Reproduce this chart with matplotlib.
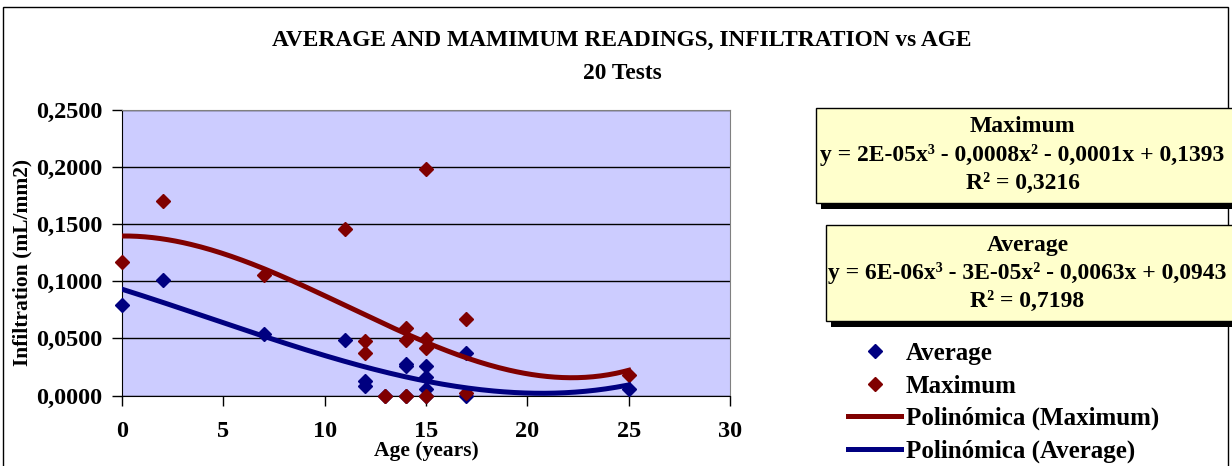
import matplotlib
matplotlib.use("Agg")
import matplotlib.pyplot as plt
import numpy as np
from matplotlib.patches import Rectangle
from matplotlib.ticker import FuncFormatter

# Readings (age in years, infiltration in mL/mm2)
age = [0, 2, 7, 11, 12, 12, 13, 14, 14, 14, 15, 15, 15, 15, 17, 17, 25]
average = [0.079, 0.101, 0.054, 0.049, 0.0128, 0.0085, 0.0, 0.028, 0.026, 0.0,
           0.026, 0.0166, 0.006, 0.0, 0.037, 0.0, 0.006]
maximum = [0.117, 0.170, 0.105, 0.1455, 0.048, 0.037, 0.0, 0.0595, 0.049, 0.0,
           0.198, 0.0496, 0.0414, 0.0, 0.0668, 0.002, 0.018]

x_ticks = [0, 5, 10, 15, 20, 25, 30]
y_ticks = [0, 0.05, 0.10, 0.15, 0.20, 0.25]

eq_max = ["Maximum", "y = 2E-05x³ - 0,0008x² - 0,0001x + 0,1393", "R² = 0,3216"]
eq_avg = ["Average", "y = 6E-06x³ - 3E-05x² - 0,0063x + 0,0943", "R² = 0,7198"]

navy = "#000080"
maroon = "#800000"

plt.rcParams["font.family"] = ["Liberation Serif", "DejaVu Serif"]
plt.rcParams["font.weight"] = "bold"

fig = plt.figure(figsize=(12.32, 4.66), dpi=100)
ax = fig.add_axes([0.099, 0.151, 0.4935, 0.614])
ax.set_facecolor("#CCCCFF")

# cubic trend lines, like the spreadsheet's polynomial trendline
xs = np.linspace(0, 25, 200)
fit_max = np.polyval(np.polyfit(age, maximum, 3), xs)
fit_avg = np.polyval(np.polyfit(age, average, 3), xs)

p_avg, = ax.plot(age, average, linestyle="none", marker="D", ms=7.5, color=navy,
                 clip_on=False, zorder=3, label="Average")
p_max, = ax.plot(age, maximum, linestyle="none", marker="D", ms=7.5, color=maroon,
                 clip_on=False, zorder=4, label="Maximum")
l_max, = ax.plot(xs, fit_max, color=maroon, lw=3.6, zorder=5,
                 label="Polinómica (Maximum)")
l_avg, = ax.plot(xs, fit_avg, color=navy, lw=3.6, zorder=5,
                 label="Polinómica (Average)")

ax.set_xlim(0, 30)
ax.set_ylim(0, 0.25)
ax.set_xticks(x_ticks)
ax.set_yticks(y_ticks)
ax.yaxis.set_major_formatter(FuncFormatter(lambda v, p: f"{v:.4f}".replace(".", ",")))
ax.grid(axis="y", color="black", lw=1)
ax.set_axisbelow(True)
ax.tick_params(axis="y", direction="out", length=7, width=1, pad=7, labelsize=17.5)
ax.tick_params(axis="x", direction="out", length=7, width=1, pad=11, labelsize=17.5)
for s in ["top", "right"]:
    ax.spines[s].set_color("#808080")

ax.set_xlabel("Age (years)", fontsize=15.5, fontweight="bold")
ax.xaxis.set_label_coords(0.5, -0.158)
ax.set_ylabel("Infiltration (mL/mm2)", fontsize=15.5, fontweight="bold")
ax.yaxis.set_label_coords(-0.148, 0.467)

fig.text(0.505, 0.914, "AVERAGE AND MAMIMUM READINGS, INFILTRATION vs AGE",
         ha="center", va="center", fontsize=16.8)
fig.text(0.505, 0.843, "20 Tests", ha="center", va="center", fontsize=16.8)

# outer frame
fig.patches.append(Rectangle((0.0024, -0.01), 0.9943, 0.995, transform=fig.transFigure,
                             fill=False, ec="black", lw=1))

# equation boxes with shadows
for x0, y0, lines, cx, ys in [
    (0.6621, 0.5637, eq_max, 0.830, [0.728, 0.667, 0.607]),
    (0.6702, 0.3112, eq_avg, 0.834, [0.474, 0.4135, 0.3526]),
]:
    fig.patches.append(Rectangle((x0 + 0.004, y0 - 0.013), 0.4, 0.205,
                                 transform=fig.transFigure, fc="black", ec="none"))
    fig.patches.append(Rectangle((x0, y0), 0.4, 0.205, transform=fig.transFigure,
                                 fc="#FFFFCC", ec="black", lw=1))
    for t, yy in zip(lines, ys):
        fig.text(cx, yy, t, ha="center", va="center", fontsize=17)

fig.legend(handles=[p_avg, p_max, l_max, l_avg], loc="upper left",
           bbox_to_anchor=(848 / 1232, 0.266), frameon=False, fontsize=18,
           handlelength=2.12, handletextpad=0.2, labelspacing=0.38,
           borderpad=0, borderaxespad=0)

fig.savefig("out.png", dpi=100)
